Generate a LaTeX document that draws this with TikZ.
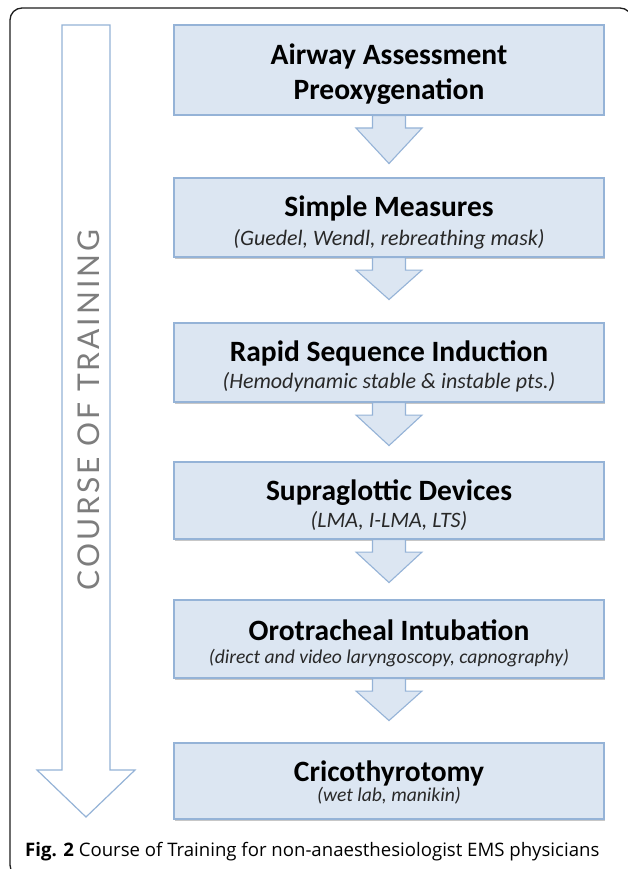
\documentclass[tikz,border=0pt]{standalone}
\usepackage{fontspec}
\setmainfont{Carlito}
\newfontfamily\capfont{Open Sans}
\newfontfamily\sidefont{Lato}[LetterSpace=10]
\usetikzlibrary{calc,shadows}
\definecolor{boxfill}{RGB}{220,230,242}
\definecolor{boxline}{RGB}{149,179,215}
\definecolor{sidegray}{RGB}{125,125,125}
\definecolor{framecol}{RGB}{30,30,30}
\definecolor{subcol}{RGB}{40,40,40}
\tikzset{
  stepbox/.style={draw=boxline, fill=boxfill, line width=1.1pt, minimum width=430pt, inner sep=0pt,
    drop shadow={shadow xshift=1.2pt, shadow yshift=-1.5pt, opacity=.22, fill=black}},
  flowarrow/.style={draw=boxline, fill=boxfill, line width=1.1pt, line join=miter},
  titletext/.style={anchor=base, font=\bfseries\fontsize{29.5}{31}\selectfont, inner sep=0pt},
  subtext/.style={anchor=base, text=subcol, font=\itshape\fontsize{22}{24}\selectfont, inner sep=0pt},
  smallsub/.style={anchor=base, text=subcol, font=\itshape\fontsize{19.6}{21}\selectfont, inner sep=0pt},
}
\newcommand{\blockarrow}[2]{%
  \draw[flowarrow] ($(#1.south)+(-16.5,0)$) -- ++(0,12.5) -- ++(-16.5,0)
    -- ($(#1.south)+(0,#2)$) -- ($(#1.south)+(33,12.5)$) -- ++(-16.5,0)
    -- ($(#1.south)+(16.5,0)$) -- cycle;}
\begin{document}
\begin{tikzpicture}[x=1pt,y=-1pt]
\useasboundingbox (0,0) rectangle (627,869);
\fill[white] (0,0) rectangle (627,869);
% frame
\draw[framecol, line width=1.3pt, rounded corners=12pt] (10,8) rectangle (632,877);
% big side arrow
\draw[boxline, line width=1.2pt, fill=white, line join=miter]
  (62,25) -- (62,770) -- (37,770) -- (86,817) -- (135,770) -- (110,770) -- (110,25) -- cycle;
\node[rotate=90, text=sidegray, font=\sidefont\fontsize{30}{30}\selectfont, inner sep=0pt] (side) at (88.5,410) {COURSE OF TRAINING};
% boxes
\node[stepbox, minimum height=90pt] (b1) at (389,70) {};
\node[stepbox, minimum height=79pt] (b2) at (389,217.5) {};
\node[stepbox, minimum height=79pt] (b3) at (389,362.5) {};
\node[stepbox, minimum height=77pt] (b4) at (389,500.5) {};
\node[stepbox, minimum height=78pt] (b5) at (389,639) {};
\node[stepbox, minimum height=76pt] (b6) at (389,781) {};
% arrows between boxes
\blockarrow{b1}{48}
\blockarrow{b2}{42}
\blockarrow{b3}{43}
\blockarrow{b4}{43}
\blockarrow{b5}{42}
% texts
\node[titletext] (t1a) at (389,65) {Airway Assessment};
\node[titletext] (t1b) at (389,100) {Preoxygenation};
\node[titletext] (t2) at (389,216.5) {Simple Measures};
\node[subtext] (s2) at (389,245) {(Guedel, Wendl, rebreathing mask)};
\node[titletext] (t3) at (389,361.5) {Rapid Sequence Induction};
\node[subtext] (s3) at (389,388) {(Hemodynamic stable \& instable pts.)};
\node[titletext] (t4) at (389,500) {Supraglottic Devices};
\node[subtext] (s4) at (389,527) {(LMA, I-LMA, LTS)};
\node[titletext] (t5) at (389,640) {Orotracheal Intubation};
\node[smallsub] (s5) at (389,663) {(direct and video laryngoscopy, capnography)};
\node[titletext] (t6) at (389,781) {Cricothyrotomy};
\node[smallsub] (s6) at (389,801.5) {(wet lab, manikin)};
% caption
\node[anchor=base west, inner sep=0pt, font=\capfont\fontsize{18.6}{20}\selectfont] (cap) at (25,856) {\textbf{Fig. 2} Course of Training for non-anaesthesiologist EMS physicians};
\end{tikzpicture}
\end{document}
